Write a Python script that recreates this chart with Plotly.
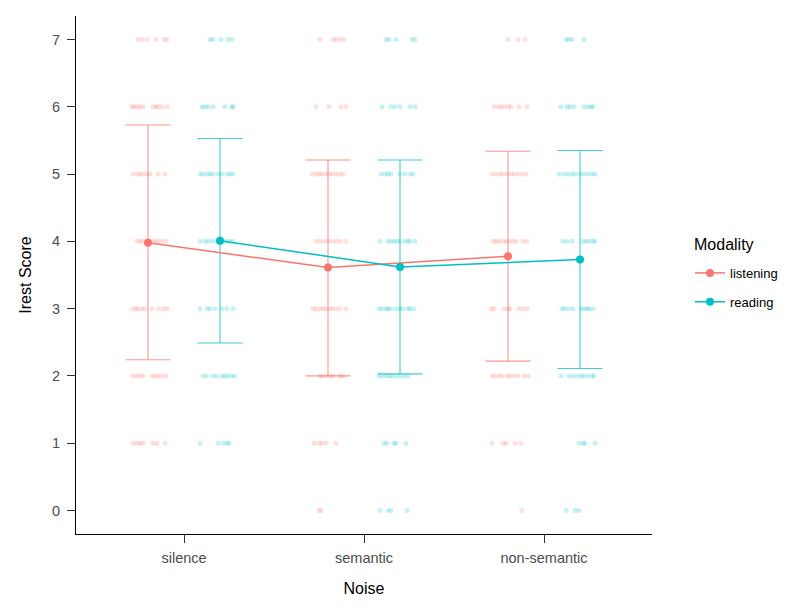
import plotly.graph_objects as go

# ---------------- data ----------------
noise = ["silence", "semantic", "non-semantic"]
modalities = ["listening", "reading"]
colors = {"listening": "#F8766D", "reading": "#00BFC4"}

mean_listening = [3.98, 3.61, 3.78]
sd_hi_listening = [5.73, 5.21, 5.34]
sd_lo_listening = [2.24, 2.00, 2.22]

mean_reading = [4.01, 3.62, 3.73]
sd_hi_reading = [5.53, 5.21, 5.35]
sd_lo_reading = [2.49, 2.03, 2.11]

# raw scores: for each condition, dict score -> jitter offsets (in 1/180 of a category step)
raw_listening_silence = {
    7: [-10, -6, -1, 8, 16, 19],
    6: [-16, -14, -11, -8, -5, 5, 8, 10, 14, 19],
    5: [-15, -11, -8, -5, -1, 2, 10, 17],
    4: [-11, -8, -5, -1, 4, 7, 10, 14, 18],
    3: [-15, -12, -10, -6, -3, 4, 10, 15, 19],
    2: [-15, -11, -8, -5, 4, 7, 10, 14, 18],
    1: [-15, -11, -8, -5, 5, 9, 17],
}
raw_reading_silence = {
    7: [-10, -7, 1, 8, 12],
    6: [-18, -15, -12, -7, 5, 12, 13],
    5: [-20, -17, -13, -10, -7, -2, 2, 7, 10, 13],
    4: [-20, -15, -12, -8, -4, 0, 3, 7, 10, 13],
    3: [-20, -13, -10, -5, 2, 7, 13],
    2: [-17, -13, -7, -3, 2, 5, 8, 12, 15],
    1: [-20, -2, 3, 7, 9],
}
raw_listening_semantic = {
    7: [-8, 5, 8, 12, 16],
    6: [-12, 1, 13, 18],
    5: [-16, -12, -9, -6, -2, 1, 4, 8, 12, 15],
    4: [-12, -8, -4, 0, 4, 8, 12, 18],
    3: [-15, -12, -8, -5, -2, 2, 4, 8, 12, 18],
    2: [-8, -6, -2, 2, 5, 12, 15],
    1: [-14, -9, -6, -2, 8],
    0: [-9, -7],
}
raw_reading_semantic = {
    7: [-14, -11, -4, 12, 15],
    6: [-18, -9, -5, 0, 10, 15],
    5: [-19, -15, -12, -9, 0, 5, 10, 13],
    4: [-20, -12, -9, -6, -3, 0, 5, 8, 10, 15],
    3: [-21, -18, -14, -12, -9, -4, 0, 3, 8, 10, 14],
    2: [-21, -18, -14, -11, -8, -4, 0, 4, 8],
    1: [-16, -13, -6, -4, 6],
    0: [-20, -12, -9, 7],
}
raw_listening_nonsemantic = {
    7: [0, 10, 17],
    6: [-14, -10, -7, -4, 0, 3, 11, 19],
    5: [-16, -12, -8, -5, -1, 3, 6, 10, 14, 18],
    4: [-15, -12, -9, -5, -2, 1, 5, 8, 15, 19],
    3: [-17, -14, -4, 0, 2, 11, 15, 19],
    2: [-16, -13, -9, -6, -1, 2, 6, 10, 16, 20],
    1: [-16, -5, -2, 7, 13],
    0: [14],
}
raw_reading_nonsemantic = {
    7: [-14, -11, -8, 4],
    6: [-19, -13, -10, -6, 4, 8, 11, 13],
    5: [-21, -16, -12, -8, -5, 0, 4, 8, 12, 15],
    4: [-17, -13, -8, 3, 6, 9, 13, 15],
    3: [-18, -15, -11, -7, 1, 4, 7, 9, 13],
    2: [-19, -11, -7, -3, 1, 4, 8, 12, 14],
    1: [-1, 3, 5, 15],
    0: [-14, -5, -1],
}

raw = {
    "listening": [raw_listening_silence, raw_listening_semantic, raw_listening_nonsemantic],
    "reading": [raw_reading_silence, raw_reading_semantic, raw_reading_nonsemantic],
}
means = {"listening": mean_listening, "reading": mean_reading}
his = {"listening": sd_hi_listening, "reading": sd_hi_reading}
los = {"listening": sd_lo_listening, "reading": sd_lo_reading}

DODGE = {"listening": -0.2, "reading": 0.2}
JIT = 1 / 180.0
CAP = 0.125

fig = go.Figure()

# jittered raw points
for m in modalities:
    xs, ys = [], []
    for ci, d in enumerate(raw[m]):
        for score, offs in d.items():
            for o in offs:
                xs.append(ci + DODGE[m] + o * JIT)
                ys.append(score)
    fig.add_trace(go.Scatter(
        x=xs, y=ys, mode="markers",
        marker=dict(color=colors[m], size=5, opacity=0.22, line=dict(width=0)),
        showlegend=False, hoverinfo="skip"))

# error bars (drawn as lines)
for m in modalities:
    xs, ys = [], []
    for ci in range(len(noise)):
        xc = ci + DODGE[m]
        xs += [xc, xc, None, xc - CAP, xc + CAP, None, xc - CAP, xc + CAP, None]
        ys += [los[m][ci], his[m][ci], None, his[m][ci], his[m][ci], None, los[m][ci], los[m][ci], None]
    fig.add_trace(go.Scatter(
        x=xs, y=ys, mode="lines",
        line=dict(color=colors[m], width=1.1),
        opacity=0.75, showlegend=False, hoverinfo="skip"))

# means
for m in modalities:
    fig.add_trace(go.Scatter(
        x=[ci + DODGE[m] for ci in range(len(noise))], y=means[m],
        mode="lines+markers", name=m, legendgroup=m,
        line=dict(color=colors[m], width=1.5),
        marker=dict(color=colors[m], size=8)))

fig.add_annotation(
    text="Modality", xref="paper", yref="paper",
    x=1.0694, xanchor="left", y=0.558, yanchor="middle",
    showarrow=False, font=dict(size=16, color="black"))

fig.update_layout(
    width=800, height=613,
    margin=dict(l=76, r=148, t=16, b=79),
    paper_bgcolor="white", plot_bgcolor="white",
    font=dict(family="Liberation Sans, Arial, sans-serif", color="black"),
    legend=dict(
        font=dict(size=13, color="black"),
        x=1.066, xanchor="left", y=0.476, yanchor="middle",
        tracegroupgap=9,
    ),
    xaxis=dict(
        range=[-0.6, 2.6],
        tickvals=list(range(len(noise))), ticktext=noise,
        showline=True, linecolor="black", linewidth=1.2,
        ticks="outside", ticklen=8, tickcolor="#333333", tickwidth=1.2,
        showgrid=False, zeroline=False,
        tickfont=dict(size=14.5, color="#4D4D4D"),
        ticklabelstandoff=2,
        title=dict(text="Noise", font=dict(size=16, color="black"), standoff=18),
    ),
    yaxis=dict(
        range=[-0.35, 7.35],
        tickvals=list(range(8)),
        showline=True, linecolor="black", linewidth=1.2,
        ticks="outside", ticklen=8, tickcolor="#333333", tickwidth=1.2,
        showgrid=False, zeroline=False,
        tickfont=dict(size=14.5, color="#4D4D4D"),
        ticklabelstandoff=4,
        title=dict(text="Irest Score", font=dict(size=16, color="black"), standoff=16),
    ),
)

fig.write_html("out.html")
